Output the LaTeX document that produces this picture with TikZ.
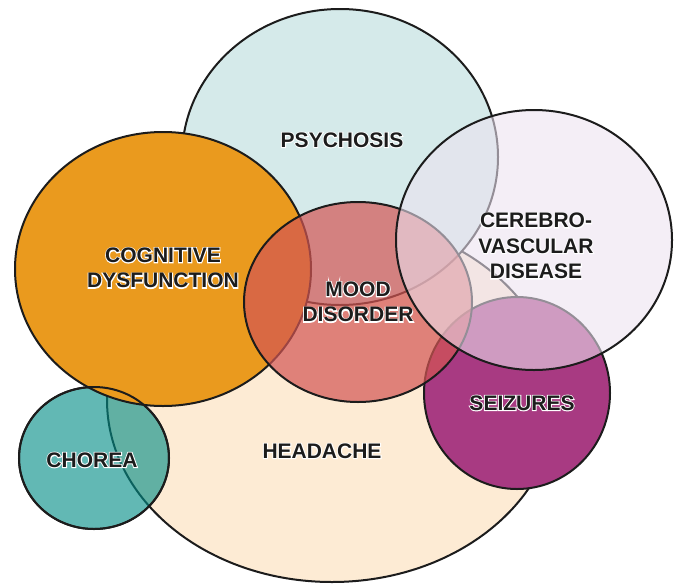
\documentclass[tikz,border=0pt]{standalone}
\usepackage{fontspec}
\setmainfont{Liberation Sans}
\newfontface\halofont{Liberation Sans Bold}[FakeBold=9]
\usetikzlibrary{shapes.geometric}
\newcommand{\halo}[1]{\rlap{\halofont\color{white}#1}#1}

\definecolor{psyfill}{HTML}{D5EAEA}
\definecolor{headfill}{HTML}{FDEBD4}
\definecolor{cogfill}{HTML}{EA9A1E}
\definecolor{seizfill}{HTML}{A83A82}
\definecolor{chorfill}{HTML}{028C86}
\definecolor{moodfill}{HTML}{D35553}
\definecolor{cerefill}{HTML}{ECE2F0}
\definecolor{inkgray}{HTML}{1C1C1C}

\begin{document}
\begin{tikzpicture}[
  x=1pt, y=-1pt,
  blob/.style={ellipse, draw=inkgray, line width=2pt, inner sep=0pt, outer sep=0pt},
  rim/.style={ellipse, draw=inkgray, line width=2pt, inner sep=0pt, outer sep=0pt},
  tag/.style={font=\bfseries\fontsize{21}{25.5}\selectfont, text=inkgray, align=center,
              inner sep=0pt},
]
\useasboundingbox (0,0) rectangle (674,584);

% Bottom layers
\node[blob, fill=headfill, minimum width=450pt, minimum height=364pt] (head) at (332,400) {};
\node[blob, fill=chorfill, fill opacity=0.62, minimum width=150pt, minimum height=142pt] (chor) at (94,458) {};
\node[blob, fill=psyfill, minimum width=316pt, minimum height=296pt] (psy) at (340,157) {};
\node[blob, fill=cogfill, minimum width=296pt, minimum height=274pt] (cog) at (163,269) {};
\node[rim, minimum width=150pt, minimum height=142pt] (chor-rim) at (chor) {};

% Upper layers
\node[blob, fill=seizfill, minimum width=186pt, minimum height=192pt] (seiz) at (517,393) {};
\node[blob, fill=moodfill, fill opacity=0.7, minimum width=228pt, minimum height=200pt] (mood) at (358,302) {};
\node[blob, fill=cerefill, fill opacity=0.58, minimum width=276pt, minimum height=260pt] (cere) at (534,240) {};

% Labels
\node[tag] (psy-lbl) at (342,140) {\halo{PSYCHOSIS}};
\node[tag] (cog-lbl) at (163,268) {\halo{COGNITIVE}\\\halo{DYSFUNCTION}};
\node[tag] (mood-lbl) at (358,302) {\halo{MOOD}\\\halo{DISORDER}};
\node[tag] (cere-lbl) at (536,246) {\halo{CEREBRO-}\\\halo{VASCULAR}\\\halo{DISEASE}};
\node[tag] (seiz-lbl) at (522,403) {\halo{SEIZURES}};
\node[tag] (head-lbl) at (322,451) {\halo{HEADACHE}};
\node[tag] (chor-lbl) at (92,460) {\halo{CHOREA}};

\end{tikzpicture}
\end{document}
